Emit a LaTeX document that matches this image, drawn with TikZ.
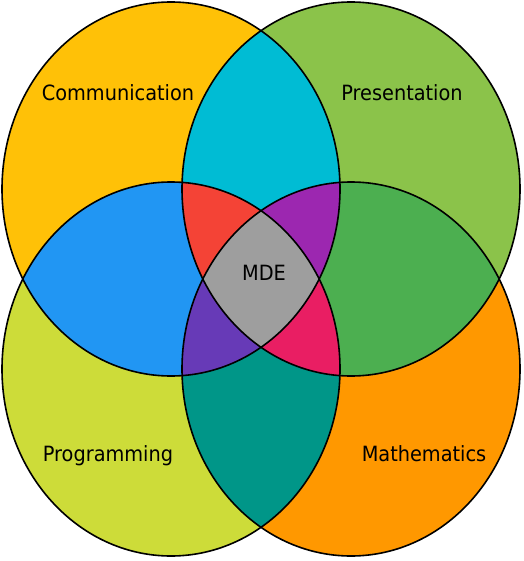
\documentclass[tikz,border=0pt]{standalone}
\usepackage{fontspec}
\setmainfont{DejaVu Sans}
\usepackage{tikz}

\definecolor{amberfill}{HTML}{FFC107}
\definecolor{limegreen}{HTML}{8BC34A}
\definecolor{limefill}{HTML}{CDDC39}
\definecolor{orangefill}{HTML}{FF9800}
\definecolor{cyanfill}{HTML}{00BCD4}
\definecolor{bluefill}{HTML}{2196F3}
\definecolor{greenfill}{HTML}{4CAF50}
\definecolor{tealfill}{HTML}{009688}
\definecolor{redfill}{HTML}{F44336}
\definecolor{purplefill}{HTML}{9C27B0}
\definecolor{deeppurple}{HTML}{673AB7}
\definecolor{pinkfill}{HTML}{E91E63}
\definecolor{greyfill}{HTML}{9E9E9E}

\begin{document}
\begin{tikzpicture}[x=1pt,y=-1pt,
    ring/.style={x radius=169,y radius=187},
    lbl/.style={font=\fontsize{21}{25}\selectfont,xscale=0.92,inner sep=0pt,anchor=base}]
    \useasboundingbox (0,0) rectangle (523,561);

    \coordinate (tl) at (171,189);
    \coordinate (tr) at (351,189);
    \coordinate (bl) at (171,369);
    \coordinate (br) at (351,369);

    % Single sets
    \fill[amberfill] (tl) ellipse [ring];
    \fill[limegreen] (tr) ellipse [ring];
    \fill[limefill] (bl) ellipse [ring];
    \fill[orangefill] (br) ellipse [ring];

    % Pairs
    \begin{scope}
        \clip (tl) ellipse [ring];
        \fill[cyanfill] (tr) ellipse [ring];
        \fill[bluefill] (bl) ellipse [ring];
    \end{scope}
    \begin{scope}
        \clip (br) ellipse [ring];
        \fill[greenfill] (tr) ellipse [ring];
        \fill[tealfill] (bl) ellipse [ring];
    \end{scope}

    % Triples
    \begin{scope}
        \clip (tl) ellipse [ring];
        \clip (tr) ellipse [ring];
        \fill[redfill] (bl) ellipse [ring];
        \fill[purplefill] (br) ellipse [ring];
    \end{scope}
    \begin{scope}
        \clip (bl) ellipse [ring];
        \clip (br) ellipse [ring];
        \fill[deeppurple] (tl) ellipse [ring];
        \fill[pinkfill] (tr) ellipse [ring];
    \end{scope}

    % All four
    \begin{scope}
        \clip (tl) ellipse [ring];
        \clip (tr) ellipse [ring];
        \clip (bl) ellipse [ring];
        \fill[greyfill] (br) ellipse [ring];
    \end{scope}

    % Outlines
    \foreach \c in {tl,tr,bl,br}
        \draw[line width=1.6pt] (\c) ellipse [ring];

    \node[lbl] (comm) at (118,101) {Communication};
    \node[lbl] (pres) at (402,101) {Presentation};
    \node[lbl] (prog) at (108,461) {Programming};
    \node[lbl] (math) at (424,461) {Mathematics};
    \node[lbl] (mde) at (264,280) {MDE};
\end{tikzpicture}
\end{document}
